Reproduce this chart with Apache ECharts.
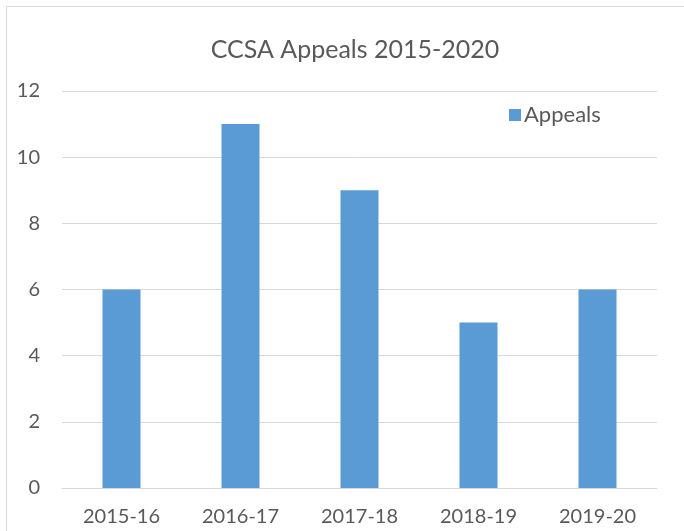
<!DOCTYPE html>
<html>
<head>
<meta charset="utf-8">
<script src="https://cdn.jsdelivr.net/npm/echarts@6/dist/echarts.min.js"></script>
<style>
  html, body { margin: 0; padding: 0; background: #fff; overflow: hidden; }
  #frame { position: absolute; left: 6px; top: 6px; width: 700px; height: 560px; border: 1px solid #d9d9d9; }
  #chart { position: absolute; left: 0; top: 0; width: 684px; height: 531px; }
</style>
</head>
<body>
<div id="frame"></div>
<div id="chart"></div>
<script>
// chart data
const years = ['2015-16', '2016-17', '2017-18', '2018-19', '2019-20'];
const appeals = [6, 11, 9, 5, 6];
const seriesName = 'Appeals';

const textColor = '#595959';
const font = 'Lato, "Open Sans", sans-serif';

const chart = echarts.init(document.getElementById('chart'));
chart.setOption({
    animation: false,
    title: {
        text: 'CCSA Appeals 2015-2020',
        left: 350,
        textAlign: 'center',
        top: 32,
        textStyle: {color: textColor, fontSize: 25, fontWeight: 'normal', fontFamily: font}
    },
    legend: {
        data: [seriesName],
        left: 504,
        top: 99,
        icon: 'rect',
        itemWidth: 12,
        itemHeight: 12,
        itemGap: 6,
        textStyle: {color: textColor, fontSize: 22, fontFamily: font, padding: [0, 0, 0, -2]}
    },
    grid: {left: 62, right: 27, top: 91, bottom: 43, containLabel: false},
    xAxis: {
        type: 'category',
        data: years,
        axisTick: {show: false},
        axisLine: {lineStyle: {color: '#d9d9d9'}},
        axisLabel: {color: textColor, fontSize: 20, fontFamily: font, margin: 19}
    },
    yAxis: {
        type: 'value',
        min: 0,
        max: 12,
        interval: 2,
        axisLine: {show: false},
        axisTick: {show: false},
        splitLine: {lineStyle: {color: '#d9d9d9'}},
        axisLabel: {color: textColor, fontSize: 20, fontFamily: font, margin: 22}
    },
    series: [{
        name: seriesName,
        type: 'bar',
        data: appeals,
        barWidth: 38,
        itemStyle: {color: '#5b9bd5'}
    }]
});
</script>
</body>
</html>
